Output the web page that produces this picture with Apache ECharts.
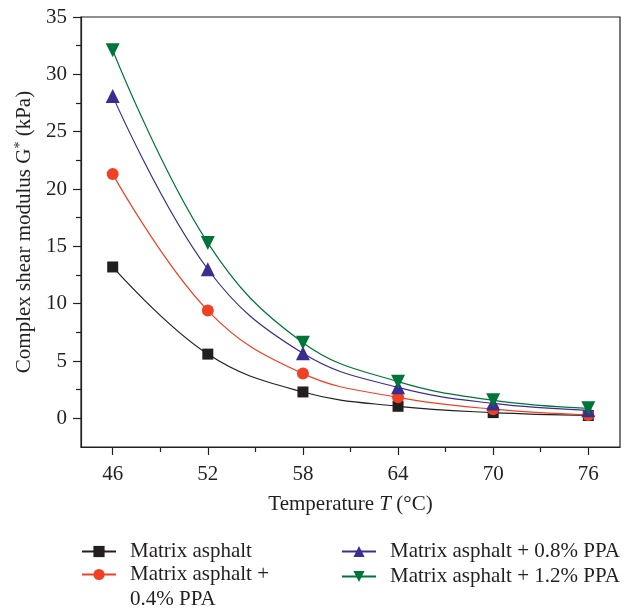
<!DOCTYPE html>
<html>
<head>
<meta charset="utf-8">
<script src="https://cdn.jsdelivr.net/npm/echarts@6/dist/echarts.min.js"></script>
<style>
html,body{margin:0;padding:0;background:#fff;}
#chart{width:629px;height:610px;}
</style>
</head>
<body>
<div id="chart"></div>
<script>
var temperatures = [46, 52, 58, 64, 70, 76];
var matrix = [13.2, 5.6, 2.3, 1.05, 0.5, 0.25];
var ppa04 = [21.3, 9.4, 3.9, 1.83, 0.8, 0.3];
var ppa08 = [28.1, 13.0, 5.67, 2.7, 1.3, 0.7];
var ppa12 = [32.1, 15.3, 6.6, 3.2, 1.57, 0.87];
var xTickLabels = [46, 52, 58, 64, 70, 76];
var xMinorTicks = [49, 55, 61, 67, 73];
var yTickLabels = [0, 5, 10, 15, 20, 25, 30, 35];
var yMinorTicks = [2.5, 7.5, 12.5, 17.5, 22.5, 27.5, 32.5];
var seriesNames = ['Matrix asphalt', 'Matrix asphalt + 0.4% PPA', 'Matrix asphalt + 0.8% PPA', 'Matrix asphalt + 1.2% PPA'];

var FONT = '"Liberation Serif", "DejaVu Serif", serif';
var FS = 21;
var INK = '#231f20';
var colors = ['#231f20', '#ef4123', '#3a2d91', '#00753a'];
var symbols = ['rect', 'circle', 'triangle', 'triangle'];
var rotates = [0, 0, 0, 180];
var sizes = [11, 12, 14, 14];
var values = [matrix, ppa04, ppa08, ppa12];

function pairs(arr) { return temperatures.map(function (t, i) { return [t, arr[i]]; }); }

var series = seriesNames.map(function (n, k) {
  return {
    name: n, type: 'line', data: pairs(values[k]),
    smooth: 0.4,
    symbol: symbols[k], symbolSize: sizes[k], symbolRotate: rotates[k],
    lineStyle: { color: colors[k], width: 1.2 },
    itemStyle: { color: colors[k] },
    z: 2 + k
  };
});

var legendPos = [[81, 539], [81, 537], [341, 539], [341, 564]];
var legends = seriesNames.map(function (n, k) {
  return {
    data: [n], left: legendPos[k][0], top: legendPos[k][1], padding: 0,
    itemWidth: 34, itemHeight: 14, selectedMode: false,
    formatter: function (name) {
      if (name === 'Matrix asphalt + 0.4% PPA') return '\nMatrix asphalt +\n0.4% PPA';
      return name;
    },
    textStyle: { fontFamily: FONT, fontSize: FS, color: INK, lineHeight: 25, padding: [0, 0, 0, 9] }
  };
});

var chart = echarts.init(document.getElementById('chart'), null, { renderer: 'canvas' });
chart.setOption({
  animation: false,
  backgroundColor: '#fff',
  grid: { left: 81, top: 17, width: 539, height: 430, show: true, borderColor: INK, borderWidth: 1.2, containLabel: false },
  legend: legends,
  xAxis: [{
    type: 'value', min: 44, max: 78,
    name: 'Temperature {i|T} (°C)', nameLocation: 'middle', nameGap: 47,
    nameTextStyle: { fontFamily: FONT, fontSize: FS, color: INK, rich: { i: { fontFamily: FONT, fontSize: FS, fontStyle: 'italic', color: INK } } },
    axisLine: { show: true, onZero: false, lineStyle: { color: INK, width: 1.2 } },
    axisTick: { show: true, length: 8, customValues: xTickLabels, lineStyle: { color: INK, width: 1.2 } },
    axisLabel: { customValues: xTickLabels, margin: 17, fontFamily: FONT, fontSize: FS, color: INK },
    splitLine: { show: false }
  }, {
    type: 'value', min: 44, max: 78, position: 'bottom', gridIndex: 0,
    axisLine: { show: false, onZero: false },
    axisTick: { show: true, length: 5, customValues: xMinorTicks, lineStyle: { color: INK, width: 1.2 } },
    axisLabel: { show: false }, splitLine: { show: false }
  }],
  yAxis: [{
    type: 'value', min: -2.5, max: 35,
    name: 'Complex shear modulus G{sup|*} (kPa)', nameLocation: 'middle', nameGap: 44,
    nameTextStyle: { fontFamily: FONT, fontSize: FS, color: INK, rich: { sup: { fontFamily: FONT, fontSize: 14, color: INK, verticalAlign: 'top', padding: [0, 0, 8, 0] } } },
    axisLine: { show: true, onZero: false, lineStyle: { color: INK, width: 1.2 } },
    axisTick: { show: true, length: 8, customValues: yTickLabels, lineStyle: { color: INK, width: 1.2 } },
    axisLabel: { customValues: yTickLabels, margin: 14, fontFamily: FONT, fontSize: FS, color: INK },
    splitLine: { show: false }
  }, {
    type: 'value', min: -2.5, max: 35, position: 'left', gridIndex: 0,
    axisLine: { show: false, onZero: false },
    axisTick: { show: true, length: 5, customValues: yMinorTicks, lineStyle: { color: INK, width: 1.2 } },
    axisLabel: { show: false }, splitLine: { show: false }
  }],
  series: series
});
</script>
</body>
</html>
